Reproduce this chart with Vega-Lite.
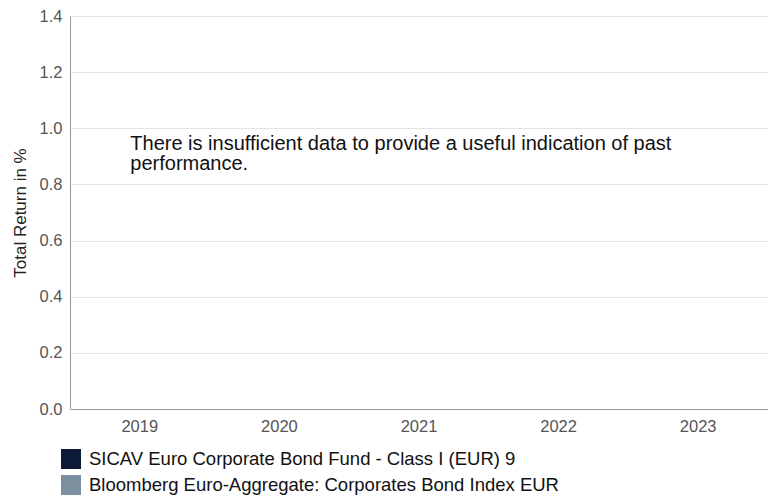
{
  "$schema": "https://vega.github.io/schema/vega-lite/v6.json",
  "width": 698,
  "height": 393,
  "autosize": {"type": "none"},
  "padding": {"left": 70, "top": 16, "right": 0, "bottom": 88},
  "background": "white",
  "config": {
    "font": "Liberation Sans",
    "view": {"stroke": null},
    "axis": {
      "labelFont": "Liberation Sans",
      "titleFont": "Liberation Sans",
      "labelColor": "#555555",
      "titleColor": "#222222",
      "domainColor": "#999999",
      "gridColor": "#e3e3e3",
      "ticks": false
    },
    "legend": {"labelFont": "Liberation Sans"}
  },
  "layer": [
    {
      "data": {
        "values": [
          {"year": "2019", "series": "SICAV Euro Corporate Bond Fund - Class I (EUR) 9", "value": 0},
          {"year": "2019", "series": "Bloomberg Euro-Aggregate: Corporates Bond Index EUR", "value": 0},
          {"year": "2020", "series": "SICAV Euro Corporate Bond Fund - Class I (EUR) 9", "value": 0},
          {"year": "2020", "series": "Bloomberg Euro-Aggregate: Corporates Bond Index EUR", "value": 0},
          {"year": "2021", "series": "SICAV Euro Corporate Bond Fund - Class I (EUR) 9", "value": 0},
          {"year": "2021", "series": "Bloomberg Euro-Aggregate: Corporates Bond Index EUR", "value": 0},
          {"year": "2022", "series": "SICAV Euro Corporate Bond Fund - Class I (EUR) 9", "value": 0},
          {"year": "2022", "series": "Bloomberg Euro-Aggregate: Corporates Bond Index EUR", "value": 0},
          {"year": "2023", "series": "SICAV Euro Corporate Bond Fund - Class I (EUR) 9", "value": 0},
          {"year": "2023", "series": "Bloomberg Euro-Aggregate: Corporates Bond Index EUR", "value": 0}
        ]
      },
      "mark": {"type": "bar"},
      "encoding": {
        "x": {
          "field": "year",
          "type": "nominal",
          "title": null,
          "scale": {"paddingInner": 0.2, "paddingOuter": 0.1},
          "axis": {"labelAngle": 0, "labelFontSize": 16.5, "labelPadding": 9, "grid": false, "domainColor": "#999999"}
        },
        "xOffset": {"field": "series", "type": "nominal", "sort": null},
        "y": {
          "field": "value",
          "type": "quantitative",
          "title": "Total Return in %",
          "scale": {"domain": [0, 1.4], "nice": false, "zero": true},
          "axis": {
            "values": [0, 0.2, 0.4, 0.6, 0.8, 1.0, 1.2, 1.4],
            "format": ".1f",
            "labelFontSize": 16.5,
            "labelPadding": 8,
            "titleFontSize": 17,
            "titleFontWeight": "normal",
            "titlePadding": 10,
            "grid": true
          }
        },
        "color": {
          "field": "series",
          "type": "nominal",
          "sort": null,
          "scale": {"range": ["#0c1a38", "#7e8fa0"]},
          "legend": {
            "title": null,
            "orient": "none",
            "legendX": -9,
            "legendY": 433,
            "direction": "vertical",
            "symbolType": "square",
            "symbolSize": 400,
            "symbolStrokeWidth": 0,
            "symbolOpacity": 1,
            "labelFontSize": 18.5,
            "labelColor": "#111111",
            "labelOffset": 8,
            "labelLimit": 700,
            "rowPadding": 6
          }
        }
      }
    },
    {
      "data": {"values": [{"note": ["There is insufficient data to provide a useful indication of past", "performance."]}]},
      "mark": {"type": "text", "align": "left", "baseline": "alphabetic", "fontSize": 20, "lineHeight": 20, "color": "#111111", "font": "Liberation Sans"},
      "encoding": {
        "text": {"field": "note"},
        "x": {"datum": "2019", "type": "nominal", "bandPosition": 0.415},
        "y": {"datum": 0.924, "type": "quantitative"}
      }
    }
  ]
}
